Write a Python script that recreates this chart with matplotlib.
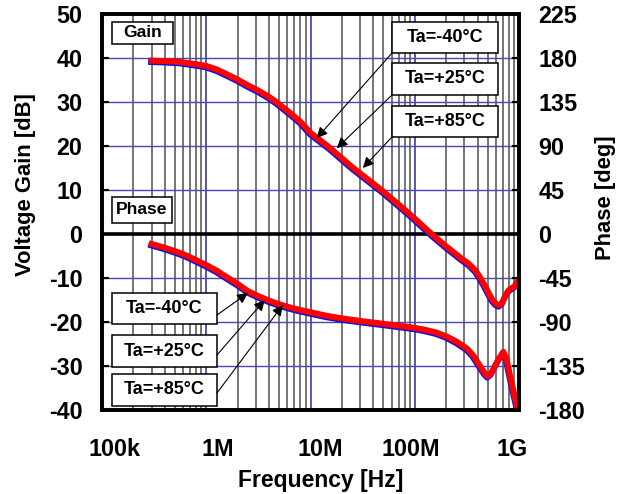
import matplotlib
matplotlib.use("Agg")
import matplotlib.pyplot as plt
import matplotlib.transforms as mtrans
from matplotlib import font_manager as fm
from matplotlib.patches import Rectangle

plt.rcParams['axes.unicode_minus'] = False

# explicit bold Arial-like face
_bold = [f.fname for f in fm.fontManager.ttflist
         if f.name == "Liberation Sans" and f.weight == 700 and f.style == "normal"]
BOLD = _bold[0] if _bold else fm.findfont(fm.FontProperties(family="DejaVu Sans", weight="bold"))


def fp(size):
    return fm.FontProperties(fname=BOLD, size=size)


# gain curve (Hz, dB)
gain_freq = [3.0e5, 3.98e5, 5.62e5, 7.94e5, 1.0e6, 1.26e6, 1.58e6, 2.0e6, 2.51e6,
             3.16e6, 3.98e6, 4.71e6, 6.31e6, 7.94e6, 1.0e7, 1.55e7, 2.51e7, 4.79e7,
             7.94e7, 1.0e8, 1.45e8, 2.0e8, 2.82e8, 3.31e8, 3.8e8, 4.17e8, 4.57e8,
             5.01e8, 5.5e8, 6.03e8, 6.46e8, 6.92e8, 7.41e8, 7.94e8, 8.51e8, 9.12e8,
             9.77e8]
gain_db = [39.4, 39.3, 39.1, 38.6, 38.2, 37.4, 36.3, 35.1, 33.8,
           32.6, 31.2, 30.0, 27.6, 25.6, 23.0, 19.5, 15.2, 10.0,
           5.6, 3.5, 0.0, -2.8, -5.6, -6.8, -8.2, -9.6, -11.2,
           -13.0, -14.8, -15.9, -16.2, -15.6, -14.0, -12.8, -12.3, -11.8,
           -10.6]

# phase curve (Hz, deg)
phase_freq = [3.0e5, 3.98e5, 5.01e5, 6.31e5, 7.94e5, 1.0e6, 1.26e6, 1.58e6, 2.0e6,
              2.51e6, 3.16e6, 3.98e6, 5.01e6, 6.31e6, 7.94e6, 1.0e7, 1.41e7, 2.0e7,
              3.16e7, 5.01e7, 7.94e7, 1.0e8, 1.26e8, 1.58e8, 2.0e8, 2.51e8, 3.16e8,
              3.63e8, 4.17e8, 4.68e8, 5.01e8, 5.37e8, 5.89e8, 6.46e8, 7.08e8, 7.59e8,
              8.32e8, 8.91e8, 9.55e8, 1.0e9]
phase_deg = [-10.2, -14.0, -17.5, -21.5, -26.5, -31.7, -37.5, -44.2, -51.0,
             -58.5, -63.5, -68.0, -71.8, -75.0, -77.7, -80.0, -83.5, -86.3,
             -89.2, -91.8, -94.5, -96.0, -98.0, -100.5, -104.5, -110.0, -117.0,
             -124.0, -134.0, -142.0, -145.5, -143.0, -135.0, -127.0, -120.5, -128.0,
             -148.0, -162.0, -176.0, -183.0]

temps = ["Ta=-40°C", "Ta=+25°C", "Ta=+85°C"]
gain_ticks = list(range(-40, 51, 10))
phase_ticks = list(range(-180, 226, 45))
freq_ticks = [1e5, 1e6, 1e7, 1e8, 1e9]
freq_labels = ["100k", "1M", "10M", "100M", "1G"]

fig = plt.figure(figsize=(6.29, 4.94), dpi=100)
ax = fig.add_axes([102/629, 1-410/494, 417/629, 396/494])
ax.set_xscale("log")
ax.set_xlim(1e5, 1e9)
ax.set_ylim(-40, 50)
ax2 = ax.twinx()
ax2.set_ylim(-180, 225)

# grid
for d in [1e5, 1e6, 1e7, 1e8]:
    for m in range(2, 10):
        ax.axvline(d*m, color="#505050", lw=1.1, zorder=1)
for d in freq_ticks[1:-1]:
    ax.axvline(d, color="#2a2aa0", lw=1.1, zorder=1)
for g in gain_ticks[1:-1]:
    if g != 0:
        ax.axhline(g, color="#4848b0", lw=1.0, zorder=1)
ax.axhline(0, color="black", lw=2.6, zorder=3)

# curves: blue trace sits just under the red one
down = mtrans.offset_copy(ax.transData, fig=fig, x=-0.6, y=-1.4, units="dots")
down2 = mtrans.offset_copy(ax2.transData, fig=fig, x=-0.6, y=-1.4, units="dots")
ax.plot(gain_freq, gain_db, color="#1010e0", lw=4.3, transform=down, zorder=4)
ax2.plot(phase_freq, phase_deg, color="#1010e0", lw=4.3, transform=down2, zorder=4)
ax.plot(gain_freq, gain_db, color="#ff0000", lw=4.3, zorder=5, solid_joinstyle="round")
ax2.plot(phase_freq, phase_deg, color="#ff0000", lw=4.3, zorder=5, solid_joinstyle="round")

ax.set_xticks(freq_ticks)
ax.set_xticklabels(freq_labels, fontproperties=fp(16.8))
ax.xaxis.set_minor_locator(matplotlib.ticker.NullLocator())
ax.tick_params(axis="x", length=0, pad=20)
ax.set_yticks(gain_ticks)
ax.set_yticklabels([str(v) for v in gain_ticks], fontproperties=fp(16.8))
ax.tick_params(axis="y", direction="in", length=5, width=1.5, pad=14)
ax2.set_yticks(phase_ticks)
ax2.set_yticklabels([str(v) for v in phase_ticks], fontproperties=fp(16.8))
ax2.tick_params(axis="y", direction="in", length=5, width=1.5, pad=14)
for lbl, dx in zip(ax.get_xticklabels(), [12, 12, 10, -4, -7]):
    lbl.set_transform(lbl.get_transform() + mtrans.ScaledTranslation(dx/100, 0, fig.dpi_scale_trans))

for a in (ax, ax2):
    for s in a.spines.values():
        s.set_linewidth(2.6)
        s.set_zorder(6)

fig.text(26/629, 1-185/494, "Voltage Gain [dB]", rotation=90, ha="center", va="center",
         fontproperties=fp(15.8))
fig.text(605/629, 1-198/494, "Phase [deg]", rotation=90, ha="center", va="center",
         fontproperties=fp(15.8))
fig.text(321/629, 1-480/494, "Frequency [Hz]", ha="center", va="center",
         fontproperties=fp(16.5))


def box(x0, x1, y0, y1, txt, fs):
    # corners given in figure pixels
    fx0, fx1 = (x0-102)/417, (x1-102)/417
    fy0, fy1 = (410-y1)/396, (410-y0)/396
    ax2.add_patch(Rectangle((fx0, fy0), fx1-fx0, fy1-fy0, transform=ax2.transAxes,
                            facecolor="white", edgecolor="black", lw=1.1, zorder=7))
    ax2.text((fx0+fx1)/2, (fy0+fy1)/2, txt, transform=ax2.transAxes, ha="center",
             va="center", fontproperties=fp(fs), zorder=8)


box(112, 173, 22, 44, "Gain", 12.6)
box(112, 172, 197, 223, "Phase", 12.6)
for (y0, y1), t in zip([(22, 53), (63, 95), (106, 137)], temps):
    box(392, 498, y0, y1, t, 13)
for (y0, y1), t in zip([(293, 324), (335, 367), (374, 406)], temps):
    box(112, 217, y0, y1, t, 13)

arrow = dict(arrowstyle="-|>", mutation_scale=16, lw=0.8, color="black", shrinkA=0, shrinkB=0)
for tip, start in zip([(1.15e7, 21.8), (1.79e7, 19.5), (3.18e7, 15.0)],
                      [53, 95, 137]):
    ax2.annotate("", xy=(tip[0], tip[1]*4.5), xycoords="data",
                 xytext=((392-102)/417, (410-start)/396), textcoords="axes fraction",
                 arrowprops=arrow, zorder=8)
for tip, start in zip([(2.51e6, -60.3), (3.64e6, -67.5), (5.42e6, -72.6)],
                      [315, 355, 393]):
    ax2.annotate("", xy=tip, xycoords="data",
                 xytext=((217-102)/417, (410-start)/396), textcoords="axes fraction",
                 arrowprops=arrow, zorder=8)

fig.savefig("out.png", dpi=100)
